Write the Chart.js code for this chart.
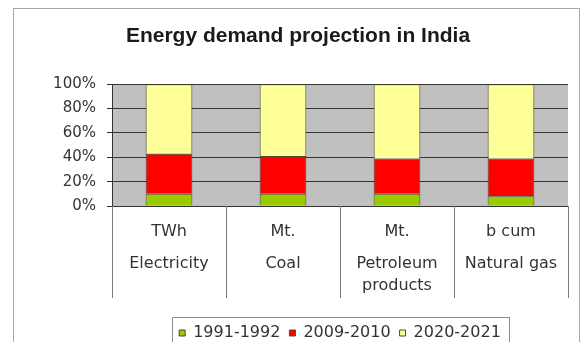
<!DOCTYPE html>
<html>
<head>
<meta charset="utf-8">
<title>Energy demand projection in India</title>
<script src="https://cdn.jsdelivr.net/npm/chart.js@4.4.1/dist/chart.umd.min.js"></script>
<style>
  html, body { margin: 0; padding: 0; background: #ffffff; }
  #wrap { width: 587px; height: 342px; }
</style>
</head>
<body>
<div id="wrap"><canvas id="chart" width="587" height="342"></canvas></div>
<script>
// Shares of each fuel's demand by period (percent of the stacked total)
const categories = ['Electricity', 'Coal', 'Petroleum products', 'Natural gas'];
const units = ['TWh', 'Mt.', 'Mt.', 'b cum'];
const nameLines = [['Electricity'], ['Coal'], ['Petroleum', 'products'], ['Natural gas']];
const seriesNames = ['1991-1992', '2009-2010', '2020-2021'];
const share1991 = [10, 10, 10, 8];
const share2009 = [33, 31, 29, 31];
const share2020 = [57, 59, 61, 61];
const yTicks = [0, 20, 40, 60, 80, 100];

const FONT = 'DejaVu Sans';
const TEXT = '#333333';

// Frame around the figure, grey plot background, group separators and legend box
const decorations = {
  id: 'decorations',
  beforeDraw(chart) {
    const {ctx, chartArea} = chart;
    ctx.save();
    ctx.fillStyle = '#ffffff';
    ctx.fillRect(0, 0, chart.width, chart.height);
    ctx.strokeStyle = '#a8a8a8';
    ctx.lineWidth = 1;
    ctx.strokeRect(13.5, 8.5, 566, 345);
    ctx.fillStyle = '#c0c0c0';
    ctx.fillRect(chartArea.left, chartArea.top, chartArea.right - chartArea.left, chartArea.bottom - chartArea.top);
    ctx.restore();
  },
  afterDraw(chart) {
    const {ctx, chartArea} = chart;
    const x = chart.scales.x;
    ctx.save();
    // separators between the category groups below the axis
    ctx.strokeStyle = '#7a7a7a';
    ctx.lineWidth = 1;
    const n = categories.length;
    const bounds = [chartArea.left];
    for (let i = 0; i < n - 1; i++) {
      bounds.push((x.getPixelForValue(i) + x.getPixelForValue(i + 1)) / 2);
    }
    bounds.push(chartArea.right);
    bounds.forEach(b => {
      const px = Math.round(b) + 0.5;
      ctx.beginPath();
      ctx.moveTo(px, chartArea.bottom);
      ctx.lineTo(px, chartArea.bottom + 92);
      ctx.stroke();
    });
    // box around the legend
    const lg = chart.legend;
    if (lg && lg.legendHitBoxes && lg.legendHitBoxes.length) {
      const hb = lg.legendHitBoxes;
      const left = hb[0].left - 7;
      const right = hb[hb.length - 1].left + hb[hb.length - 1].width + 8;
      const cy = hb[0].top + hb[0].height / 2;
      ctx.strokeStyle = '#8c8c8c';
      ctx.strokeRect(Math.round(left) + 0.5, Math.round(cy - 16) + 0.5, Math.round(right - left), 40);
    }
    ctx.restore();
  }
};

const commonBar = {
  borderColor: '#4a4a30',
  borderWidth: 1,
  barPercentage: 0.41,
  categoryPercentage: 1.0,
  xAxisID: 'x'
};

new Chart(document.getElementById('chart'), {
  type: 'bar',
  data: {
    labels: categories,
    datasets: [
      Object.assign({label: seriesNames[0], data: share1991, backgroundColor: '#99cc00'}, commonBar),
      Object.assign({label: seriesNames[1], data: share2009, backgroundColor: '#ff0000'}, commonBar),
      Object.assign({label: seriesNames[2], data: share2020, backgroundColor: '#ffff99'}, commonBar)
    ]
  },
  options: {
    responsive: false,
    animation: false,
    devicePixelRatio: 1,
    layout: { padding: { left: 28, right: 19, top: 0, bottom: -9 } },
    plugins: {
      title: {
        display: true,
        text: 'Energy demand projection in India',
        color: '#1a1a1a',
        font: { family: 'Liberation Sans', size: 21, weight: 'bold' },
        padding: { top: 24, bottom: 35 }
      },
      legend: {
        display: true,
        position: 'bottom',
        fullSize: false,
        labels: {
          boxWidth: 6,
          boxHeight: 6,
          padding: 9,
          color: TEXT,
          font: { family: FONT, size: 16 }
        }
      },
      tooltip: { enabled: false }
    },
    scales: {
      x: {
        stacked: true,
        offset: true,
        grid: { display: true, drawOnChartArea: false, drawTicks: false },
        border: { display: true, color: '#333333', width: 1 },
        ticks: {
          color: TEXT,
          font: { family: FONT, size: 16 },
          padding: 16,
          maxRotation: 0,
          autoSkip: false,
          callback: (v, i) => units[i]
        },
        afterFit(scale) { scale.height = 34; }
      },
      x2: {
        type: 'category',
        position: 'bottom',
        labels: nameLines,
        offset: true,
        grid: { display: false },
        border: { display: false },
        ticks: {
          color: TEXT,
          font: { family: FONT, size: 16, lineHeight: 1.375 },
          padding: 5,
          maxRotation: 0,
          autoSkip: false
        },
        afterFit(scale) { scale.height = 76; }
      },
      y: {
        stacked: true,
        min: 0,
        max: 100,
        afterBuildTicks(scale) { scale.ticks = yTicks.map(v => ({value: v})); },
        afterFit(scale) { scale.width = 84; },
        grid: { color: '#333333', lineWidth: 1, tickLength: 5, drawTicks: true },
        border: { display: true, color: '#333333', width: 1 },
        ticks: {
          color: TEXT,
          font: { family: FONT, size: 15 },
          padding: 11,
          callback: v => v + '%'
        }
      }
    }
  },
  plugins: [decorations]
});
</script>
</body>
</html>
